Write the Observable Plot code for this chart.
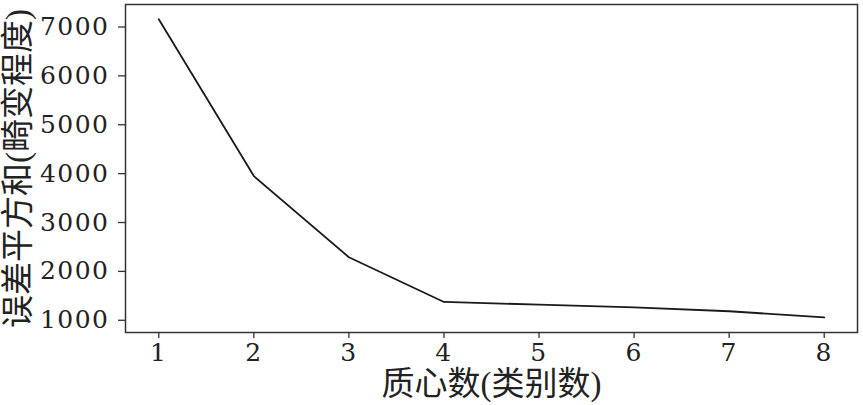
<!DOCTYPE html>
<html>
<head>
<meta charset="utf-8">
<script src="https://cdn.jsdelivr.net/npm/d3@7"></script>
<script src="https://cdn.jsdelivr.net/npm/@observablehq/plot@0.6"></script>
<style>
  html, body { margin: 0; padding: 0; background: #fff; }
  #chart svg { display: block; }
</style>
</head>
<body>
<div id="chart"></div>
<script>
// Data (elbow curve)
const centroids = [1, 2, 3, 4, 5, 6, 7, 8];
const sse = [7160, 3950, 2290, 1375, 1320, 1265, 1185, 1060];
const xTicks = [1, 2, 3, 4, 5, 6, 7, 8];
const yTicks = [1000, 2000, 3000, 4000, 5000, 6000, 7000];
const xLabel = "质心数(类别数)";
const yLabel = "误差平方和(畸变程度)";

const data = centroids.map((k, i) => ({k, v: sse[i]}));

const tickFont = "'DejaVu Serif', serif";
const labelFont = "'Liberation Serif', 'Noto Sans CJK SC', serif";

const chart = Plot.plot({
  width: 863,
  height: 405,
  marginLeft: 125,
  marginRight: 6,
  marginTop: 4,
  marginBottom: 73,
  style: {fontFamily: tickFont, fontSize: "24px", color: "#222", background: "#fff"},
  x: {domain: [0.65, 8.35], ticks: xTicks, tickFormat: d => String(d), label: null},
  y: {domain: [750, 7460], ticks: yTicks, tickFormat: d => String(d), label: null},
  marks: [
    Plot.frame({stroke: "#333", strokeWidth: 1.5}),
    Plot.axisX({ticks: xTicks, tickFormat: d => String(d), tickSize: 6, tickPadding: 5, stroke: "#333", strokeWidth: 1.3, label: null}),
    Plot.axisY({ticks: yTicks, tickFormat: d => String(d), tickSize: 7, tickPadding: 9, stroke: "#333", strokeWidth: 1.3, label: null}),
    Plot.lineY(data, {x: "k", y: "v", stroke: "#1a1a1a", strokeWidth: 1.8}),
    Plot.text([xLabel], {frameAnchor: "bottom", text: d => d, dy: 52, textAnchor: "middle", lineAnchor: "middle", fontFamily: labelFont, fontSize: 33, fill: "#222"}),
    Plot.text([yLabel], {frameAnchor: "left", text: d => d, dx: -107, rotate: -90, textAnchor: "middle", lineAnchor: "middle", fontFamily: labelFont, fontSize: 33, fill: "#222"})
  ]
});
// numeric tick labels: serif, larger
d3.select(chart).selectAll("text")
  .filter(function() { return /^\d+$/.test(this.textContent.trim()); })
  .each(function() {
    this.style.setProperty("font-size", "25px", "important");
    this.style.setProperty("font-family", tickFont, "important");
    this.style.setProperty("letter-spacing", "1.5px", "important");
  });
document.getElementById("chart").appendChild(chart);
</script>
</body>
</html>
